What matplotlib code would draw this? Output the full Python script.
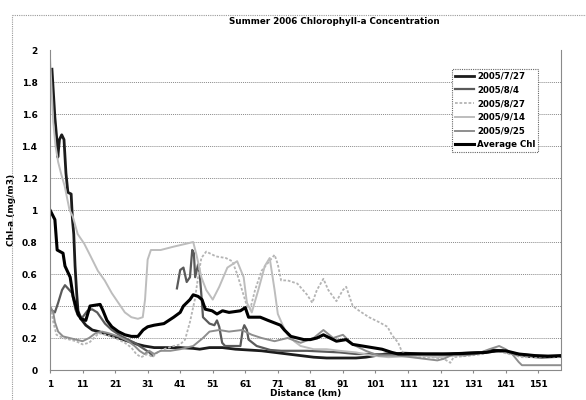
import matplotlib
matplotlib.use("Agg")
import matplotlib.pyplot as plt
from matplotlib.lines import Line2D
import numpy as np

# values (distance index, Chl-a mg/m3)
x_0727 = [1.6, 2.5, 3.1, 3.4, 3.9, 4.6, 5.3, 5.9, 6.5, 7.5, 7.9, 8.3, 8.7, 9.2, 9.6, 10.5, 12, 14, 16, 19,
          22, 25, 28, 30, 33, 37, 41, 45, 47, 50, 54, 58, 62, 66, 70, 74, 78, 82, 86, 90,
          95, 98, 101, 104, 110, 116, 122, 128, 134, 137, 140, 144, 148, 152, 158]
y_0727 = [1.88, 1.58, 1.44, 1.33, 1.44, 1.47, 1.44, 1.23, 1.11, 1.10, 0.94, 0.85, 0.65, 0.48, 0.37, 0.32, 0.28, 0.25, 0.24, 0.22,
          0.20, 0.18, 0.16, 0.15, 0.14, 0.14, 0.14, 0.135, 0.13, 0.14, 0.14, 0.13, 0.125, 0.12, 0.11, 0.10, 0.09, 0.08, 0.075, 0.075,
          0.075, 0.08, 0.09, 0.10, 0.105, 0.10, 0.10, 0.105, 0.11, 0.125, 0.12, 0.10, 0.085, 0.08, 0.085]

x_0804 = [1, 2.5, 3.5, 4.7, 5.6, 6.5, 7.8, 8.8, 9.6, 11, 12.5, 13.9, 15.5, 17.9, 20, 23, 27, 30, 31.5, 32.4,
          36,
          40, 41, 42, 43, 44, 44.7, 45.2, 45.6, 46.5, 47, 47.7, 48, 50, 51.5, 52.3, 53, 53.9, 54.8, 59.5,
          60.2, 60.7, 61.5, 62, 64.5, 68.7, 72, 76, 80, 85, 90, 95, 100, 105, 110, 115, 120, 125, 130, 135,
          140, 145, 150, 158]
y_0804 = [0.38, 0.36, 0.42, 0.50, 0.53, 0.51, 0.48, 0.38, 0.34, 0.33, 0.37, 0.38, 0.36, 0.29, 0.25, 0.21, 0.17, 0.13, 0.11, 0.09,
          np.nan,
          0.51, 0.625, 0.64, 0.55, 0.58, 0.75, 0.73, 0.58, 0.66, 0.60, 0.42, 0.33, 0.29, 0.28, 0.31, 0.27, 0.17, 0.15, 0.15,
          0.25, 0.28, 0.25, 0.19, 0.15, 0.125, 0.12, 0.12, 0.12, 0.115, 0.11, 0.10, 0.10, 0.095, 0.09, 0.10, 0.10, 0.095, 0.10, 0.11,
          0.12, 0.10, 0.09, 0.09]

x_0827 = [1, 2, 3, 5, 7, 9, 11, 13, 14.5, 16, 18, 21, 24, 26, 27.5, 29, 31, 32.5, 34, 36,
          39, 41, 42.5, 44, 45.5, 46.5, 47.5, 49, 52, 55, 57, 58.5, 60, 61.5, 62.5, 64, 66, 68, 70, 71,
          72, 74, 77, 80, 81.6, 83, 85, 86.5, 89, 91, 92, 93, 94, 96, 99, 102, 104.7, 106, 108, 109,
          110, 113, 118, 122, 124, 125, 130, 134, 138, 142, 146, 150, 158]
y_0827 = [0.42, 0.30, 0.22, 0.20, 0.19, 0.18, 0.16, 0.17, 0.20, 0.23, 0.22, 0.20, 0.17, 0.14, 0.10, 0.08, 0.10, 0.08, 0.11, 0.13,
          0.15, 0.16, 0.19, 0.30, 0.44, 0.58, 0.70, 0.74, 0.71, 0.70, 0.68, 0.60, 0.50, 0.40, 0.38, 0.50, 0.62, 0.67, 0.72, 0.66,
          0.56, 0.56, 0.54, 0.47, 0.42, 0.50, 0.57, 0.50, 0.43, 0.50, 0.52, 0.46, 0.40, 0.37, 0.33, 0.30, 0.27, 0.22, 0.17, 0.12,
          0.10, 0.08, 0.08, 0.07, 0.045, 0.08, 0.09, 0.10, 0.12, 0.10, 0.08, 0.08, 0.08]

x_0914 = [1, 1.5, 2, 2.7, 3.5, 4.5, 5.5, 6.5, 7, 8, 9.5, 11.5, 13.5, 15.7, 17.8, 20, 22, 24, 26, 28,
          29.5, 30.2, 31, 32, 35, 38.8, 43, 45, 46, 47.5, 49, 51, 53, 55.5, 58.5, 60.5, 61.5, 63, 65, 67,
          68.5, 70, 71, 72.5, 74, 76, 78, 82, 86, 90, 95, 100, 105, 110, 115, 120, 126, 130, 134, 138,
          143, 147, 152, 158]
y_0914 = [1.95, 1.75, 1.55, 1.40, 1.30, 1.22, 1.15, 1.05, 1.00, 0.96, 0.85, 0.79, 0.71, 0.62, 0.56, 0.48, 0.42, 0.36, 0.33, 0.32,
          0.33, 0.44, 0.69, 0.75, 0.75, 0.77, 0.79, 0.80, 0.72, 0.58, 0.50, 0.44, 0.52, 0.64, 0.68, 0.58, 0.42, 0.36, 0.50, 0.65,
          0.70, 0.50, 0.35, 0.28, 0.22, 0.18, 0.15, 0.13, 0.13, 0.12, 0.11, 0.09, 0.08, 0.085, 0.09, 0.08, 0.09, 0.10, 0.11, 0.12,
          0.11, 0.09, 0.085, 0.09]

x_0925 = [1, 2, 2.5, 3.5, 5, 7, 9, 11, 13, 15, 17, 19, 22, 25, 27, 28.5, 30, 31.5, 33, 35,
          38, 41, 45, 48, 50, 53, 56, 60, 63, 66, 70, 74, 78, 82, 85, 88, 91, 94, 98, 102,
          108, 112, 116, 120, 122, 125, 128, 132, 136, 139, 141, 143, 145, 146, 150, 158]
y_0925 = [0.40, 0.36, 0.30, 0.24, 0.21, 0.20, 0.19, 0.18, 0.20, 0.23, 0.24, 0.23, 0.21, 0.18, 0.15, 0.12, 0.10, 0.12, 0.10, 0.12,
          0.12, 0.13, 0.15, 0.20, 0.24, 0.25, 0.24, 0.25, 0.22, 0.20, 0.18, 0.20, 0.17, 0.20, 0.25, 0.20, 0.22, 0.16, 0.12, 0.09,
          0.09, 0.08, 0.07, 0.06, 0.07, 0.10, 0.09, 0.10, 0.13, 0.15, 0.13, 0.10, 0.05, 0.03, 0.03, 0.03]

x_avg = [1, 2.5, 3.2, 5, 5.6, 7.2, 8.1, 9.6, 10.5, 12, 13.3, 16.4, 17.3, 18.5, 20, 22, 24, 26, 28, 29.6,
         31, 33, 36, 39, 41, 42, 44, 45, 46.5, 47.7, 48.7, 50.8, 52.3, 54, 56, 59.5, 61, 62, 65.6, 68,
         71.8, 73, 75, 79, 81, 83, 85, 87, 89, 92, 94, 97, 100, 103, 106, 108, 112, 118, 124, 130,
         135, 138, 141, 145, 150, 154, 158]
y_avg = [1.00, 0.94, 0.75, 0.73, 0.65, 0.58, 0.46, 0.35, 0.32, 0.31, 0.40, 0.41, 0.37, 0.31, 0.27, 0.24, 0.22, 0.21, 0.21, 0.25,
         0.27, 0.28, 0.29, 0.33, 0.36, 0.40, 0.44, 0.47, 0.46, 0.44, 0.38, 0.37, 0.35, 0.37, 0.36, 0.37, 0.39, 0.33, 0.33, 0.31,
         0.28, 0.25, 0.21, 0.19, 0.19, 0.20, 0.22, 0.20, 0.18, 0.19, 0.16, 0.15, 0.14, 0.13, 0.11, 0.10, 0.10, 0.10, 0.10, 0.105,
         0.11, 0.12, 0.12, 0.10, 0.09, 0.085, 0.09]

labels = ["2005/7/27", "2005/8/4", "2005/8/27", "2005/9/14", "2005/9/25", "Average Chl"]
x_ticks = list(range(1, 152, 10))
y_ticks = [0, 0.2, 0.4, 0.6, 0.8, 1, 1.2, 1.4, 1.6, 1.8, 2]

fig = plt.figure(figsize=(5.86, 4.0), dpi=100)
ax = fig.add_axes([50 / 586, 30 / 400, 511 / 586, 320 / 400])

ax.plot(x_0727, y_0727, color="#1c1c1c", lw=2.0, label=labels[0])
ax.plot(x_0804, y_0804, color="#5a5a5a", lw=1.6, label=labels[1])
ax.plot(x_0827, y_0827, color="#b4b4b4", lw=1.3, ls=(0, (1.5, 1)), label=labels[2])
ax.plot(x_0914, y_0914, color="#bdbdbd", lw=1.4, label=labels[3])
ax.plot(x_0925, y_0925, color="#8e8e8e", lw=1.4, label=labels[4])
ax.plot(x_avg, y_avg, color="black", lw=2.2, label=labels[5])

ax.set_xlim(1, 158)
ax.set_ylim(0, 2)
ax.set_xticks(x_ticks)
ax.set_xticklabels([str(t) for t in x_ticks], fontsize=6.5, fontweight="bold")
ax.set_yticks(y_ticks)
ax.set_yticklabels([f"{t:g}" for t in y_ticks], fontsize=6.5, fontweight="bold")
ax.tick_params(axis="x", length=2, color="#888888", pad=5)
ax.tick_params(axis="y", length=0, pad=9)

for y in y_ticks[1:-1]:
    ax.axhline(y, color="#8a8a8a", lw=0.7, ls=(0, (1, 1)), zorder=0)

for s in ["left", "right", "bottom"]:
    ax.spines[s].set_color("#8a8a8a")
    ax.spines[s].set_linestyle((0, (1, 1)))
    ax.spines[s].set_linewidth(0.8)
ax.spines["top"].set_visible(False)

ax.set_xlabel("Distance (km)", fontsize=6.5, fontweight="bold", labelpad=0)
ax.set_ylabel("Chl-a (mg/m3)", fontsize=6.5, fontweight="bold", labelpad=4)
fig.text(334 / 586, 1 - 22 / 400, "Summer 2006 Chlorophyll-a Concentration",
         fontsize=6.3, fontweight="bold", ha="center", va="center")

leg = ax.legend(loc="upper left", bbox_to_anchor=(0.779, 0.955),
                prop={"weight": "bold", "size": 6.2}, handlelength=2.2, handletextpad=0.3,
                labelspacing=0.55, borderpad=0.35, fancybox=False, framealpha=1)
leg.get_frame().set_edgecolor("#666666")
leg.get_frame().set_linestyle((0, (1, 1)))
leg.get_frame().set_linewidth(0.8)

# outer chart frame (dotted, scanned look)
fig.add_artist(Line2D([12 / 586, 12 / 586], [0, 1 - 15 / 400], transform=fig.transFigure,
                      color="#999999", lw=0.8, ls=(0, (1, 1))))
fig.add_artist(Line2D([12 / 586, 1], [1 - 15 / 400, 1 - 15 / 400], transform=fig.transFigure,
                      color="#999999", lw=0.8, ls=(0, (1, 1))))

fig.savefig("out.png", dpi=100)
